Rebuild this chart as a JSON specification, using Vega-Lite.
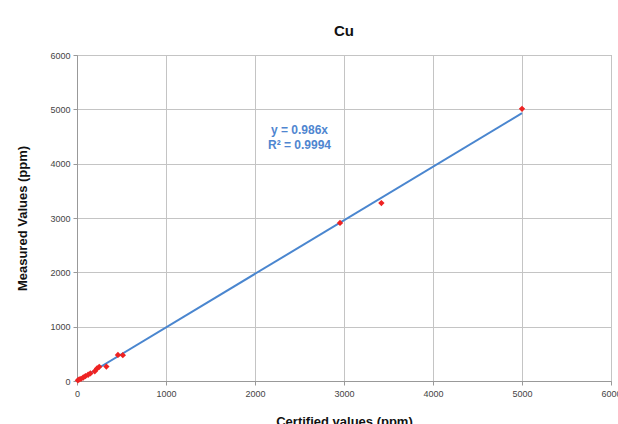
{
  "$schema": "https://vega.github.io/schema/vega-lite/v6.json",
  "width": 534,
  "height": 326,
  "autosize": {"type": "none"},
  "padding": {"left": 77, "top": 55, "right": 7, "bottom": 43},
  "background": "white",
  "title": {"text": "Cu", "font": "Liberation Sans", "fontSize": 15, "fontWeight": "bold", "color": "#111111", "offset": 12},
  "datasets": {
    "points": [
      {"certified": 10, "measured": 12},
      {"certified": 25, "measured": 30},
      {"certified": 45, "measured": 40},
      {"certified": 70, "measured": 65},
      {"certified": 95, "measured": 90},
      {"certified": 125, "measured": 115},
      {"certified": 150, "measured": 140},
      {"certified": 200, "measured": 180},
      {"certified": 225, "measured": 230},
      {"certified": 250, "measured": 260},
      {"certified": 330, "measured": 265},
      {"certified": 460, "measured": 480},
      {"certified": 515, "measured": 475},
      {"certified": 2955, "measured": 2910},
      {"certified": 3420, "measured": 3275},
      {"certified": 5000, "measured": 5010}
    ],
    "trend": [
      {"certified": 0, "measured": 0},
      {"certified": 5000, "measured": 4930}
    ],
    "labels": [
      {"certified": 2500, "measured": 4620, "label": "y = 0.986x"},
      {"certified": 2500, "measured": 4345, "label": "R² = 0.9994"}
    ]
  },
  "encoding": {
    "x": {
      "field": "certified", "type": "quantitative",
      "scale": {"domain": [0, 6000], "nice": false},
      "axis": {
        "title": "Certified values (ppm)", "values": [0, 1000, 2000, 3000, 4000, 5000, 6000], "format": "d",
        "titleFont": "Liberation Sans", "titleFontSize": 13, "titleFontWeight": "bold", "titleColor": "#111111", "titlePadding": 17,
        "labelFont": "Liberation Sans", "labelFontSize": 9, "labelColor": "#444444", "labelPadding": 4,
        "grid": true, "gridColor": "#c4c4c4", "domainColor": "#999999", "tickColor": "#999999", "tickSize": 4,
        "labelFlush": false
      }
    },
    "y": {
      "field": "measured", "type": "quantitative",
      "scale": {"domain": [0, 6000], "nice": false},
      "axis": {
        "title": "Measured Values (ppm)", "values": [0, 1000, 2000, 3000, 4000, 5000, 6000], "format": "d",
        "titleFont": "Liberation Sans", "titleFontSize": 13, "titleFontWeight": "bold", "titleColor": "#111111", "titlePadding": 20,
        "labelFont": "Liberation Sans", "labelFontSize": 9, "labelColor": "#444444", "labelPadding": 3,
        "grid": true, "gridColor": "#c4c4c4", "domainColor": "#999999", "tickColor": "#999999", "tickSize": 4,
        "labelFlush": false
      }
    }
  },
  "layer": [
    {
      "data": {"name": "trend"},
      "mark": {"type": "line", "color": "#4a86cf", "strokeWidth": 2}
    },
    {
      "data": {"name": "points"},
      "mark": {"type": "point", "shape": "diamond", "filled": true, "color": "#ee2222", "size": 40, "opacity": 1}
    },
    {
      "data": {"name": "labels"},
      "mark": {"type": "text", "font": "Liberation Sans", "fontSize": 12, "fontWeight": "bold", "color": "#4f86d0", "align": "center", "baseline": "middle"},
      "encoding": {"text": {"field": "label"}}
    }
  ],
  "config": {"view": {"stroke": "#999999"}}
}
